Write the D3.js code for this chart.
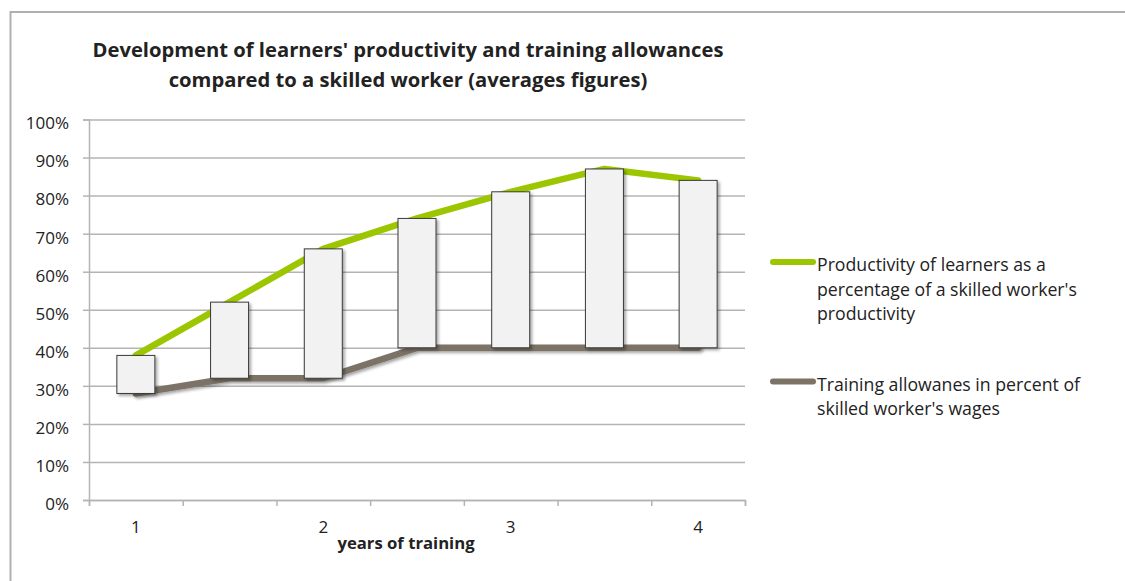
<!DOCTYPE html>
<html>
<head>
<meta charset="utf-8">
<script src="https://cdn.jsdelivr.net/npm/d3@7"></script>
<style>
	body { margin: 0; background: #fff; }
	text { font-family: "Open Sans", sans-serif; fill: #222; }
</style>
</head>
<body>
<script>
"use strict";

//chart data
const periods = [1, 1.5, 2, 2.5, 3, 3.5, 4];
const productivity = [38, 52, 66, 74, 81, 87, 84];
const allowances = [28, 32, 32, 40, 40, 40, 40];
const yTicks = [0, 10, 20, 30, 40, 50, 60, 70, 80, 90, 100];
const titleLines = ["Development of learners' productivity and training allowances",
	"compared to a skilled worker (averages figures)"];
const legendItems = [
	{lines: ["Productivity of learners as a", "percentage of a skilled worker's", "productivity"], color: "#9cc600"},
	{lines: ["Training allowanes in percent of", "skilled worker's wages"], color: "#7c7366"}
];

(function()
{
	const W = 1125, H = 581;
	const plotLeft = 89, plotRight = 745, plotTop = 119.5, plotBottom = 500;
	const font = "'Open Sans', sans-serif";

	let svg = d3.select("body").append("svg")
		.attr("width", W)
		.attr("height", H);

	let defs = svg.append("defs");
	let shadow = defs.append("filter")
		.attr("id", "shadow")
		.attr("x", "-30%").attr("y", "-30%")
		.attr("width", "160%").attr("height", "160%");
	shadow.append("feDropShadow")
		.attr("dx", 2).attr("dy", 2)
		.attr("stdDeviation", 1.8)
		.attr("flood-color", "#000")
		.attr("flood-opacity", 0.35);

	//outer frame
	svg.append("path")
		.attr("d", "M10.5," + H + "V12H" + W)
		.attr("fill", "none")
		.attr("stroke", "#b0b0b0")
		.attr("stroke-width", 2);

	//title
	svg.append("g")
		.selectAll("text")
		.data(titleLines)
		.join("text")
		.attr("x", 408)
		.attr("y", (d, i) => 57 + i * 30)
		.attr("text-anchor", "middle")
		.attr("font-size", 20.2)
		.attr("font-weight", "bold")
		.text(d => d);

	//scales
	let x = d3.scaleBand()
		.domain(periods)
		.range([plotLeft, plotRight])
		.padding(0);
	let xEdges = d3.scaleLinear()
		.domain([0, periods.length])
		.range([plotLeft, plotRight]);
	let y = d3.scaleLinear()
		.domain([0, 100])
		.range([plotBottom, plotTop]);

	//gridlines
	svg.append("g")
		.attr("transform", "translate(" + plotLeft + ",0)")
		.call(d3.axisLeft(y).tickValues(yTicks).tickSize(-(plotRight - plotLeft)).tickFormat(""))
		.call(g => g.select(".domain").remove())
		.call(g => g.selectAll("line").attr("stroke", "#b4b4b4").attr("stroke-width", 1.5));

	//y axis
	let yAxis = svg.append("g")
		.attr("transform", "translate(" + plotLeft + ",0)")
		.call(d3.axisLeft(y).tickValues(yTicks).tickSize(6).tickPadding(14).tickFormat(d => d + "%"));
	yAxis.attr("font-family", font).attr("font-size", 17);
	yAxis.select(".domain").attr("stroke", "#b4b4b4").attr("stroke-width", 1.5);
	yAxis.selectAll("line").attr("stroke", "#b4b4b4").attr("stroke-width", 1.5);
	yAxis.selectAll("text").attr("fill", "#222").attr("dy", "0.55em");

	//x axis: ticks on category edges, labels in the middle
	let xAxis = svg.append("g")
		.attr("transform", "translate(0," + plotBottom + ")")
		.call(d3.axisBottom(xEdges).ticks(periods.length).tickSize(6).tickFormat(""));
	xAxis.select(".domain").attr("stroke", "#b4b4b4").attr("stroke-width", 1.5);
	xAxis.selectAll("line").attr("stroke", "#b4b4b4").attr("stroke-width", 1.5);

	let xLabels = svg.append("g")
		.attr("transform", "translate(0," + plotBottom + ")")
		.call(d3.axisBottom(x).tickSize(0).tickPadding(21)
			.tickFormat(d => Number.isInteger(d) ? String(d) : ""));
	xLabels.attr("font-family", font).attr("font-size", 17);
	xLabels.select(".domain").remove();
	xLabels.selectAll("text").attr("fill", "#222");

	svg.append("text")
		.attr("x", 406)
		.attr("y", 549)
		.attr("text-anchor", "middle")
		.attr("font-size", 16.7)
		.attr("font-weight", "bold")
		.text("years of training");

	//lines
	let line = d3.line()
		.x((d, i) => x(periods[i]) + x.bandwidth() / 2)
		.y(d => y(d));

	let lines = svg.append("g")
		.attr("fill", "none")
		.attr("stroke-width", 6.5)
		.attr("stroke-linecap", "round")
		.attr("stroke-linejoin", "round");
	lines.append("path")
		.attr("d", line(allowances))
		.attr("stroke", legendItems[1].color)
		.attr("filter", "url(#shadow)");
	lines.append("path")
		.attr("d", line(productivity))
		.attr("stroke", legendItems[0].color);

	//up/down boxes between the two series
	let boxW = 38;
	svg.append("g")
		.selectAll("rect")
		.data(periods)
		.join("rect")
		.attr("x", d => x(d) + x.bandwidth() / 2 - boxW / 2)
		.attr("y", (d, i) => y(Math.max(productivity[i], allowances[i])))
		.attr("width", boxW)
		.attr("height", (d, i) => Math.abs(y(allowances[i]) - y(productivity[i])))
		.attr("fill", "#f2f2f2")
		.attr("stroke", "#3a3a3a")
		.attr("stroke-width", 1)
		.attr("filter", "url(#shadow)");

	//legend
	let legendY = [262, 381.5];
	let legend = svg.append("g");
	legendItems.forEach(function(item, k)
	{
		let g = legend.append("g")
			.attr("transform", "translate(0," + legendY[k] + ")");
		g.append("line")
			.attr("x1", 773)
			.attr("x2", 813)
			.attr("stroke", item.color)
			.attr("stroke-width", 6)
			.attr("stroke-linecap", "round");
		g.selectAll("text")
			.data(item.lines)
			.join("text")
			.attr("x", 817)
			.attr("y", (d, i) => 9 + i * 24.5)
			.attr("font-size", 17.7)
			.text(d => d);
	});
})();
</script>
</body>
</html>
